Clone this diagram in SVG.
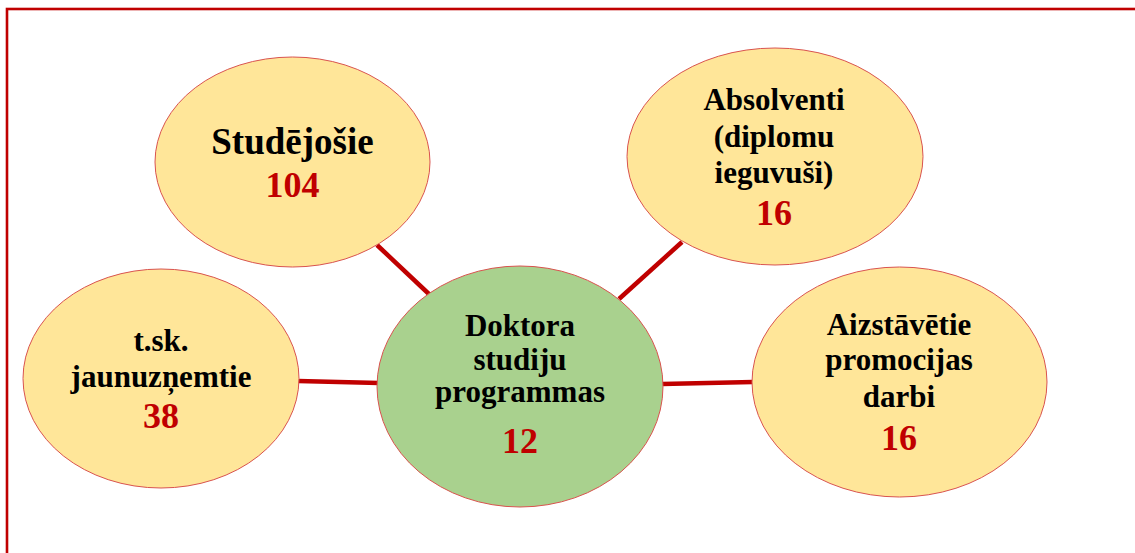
<svg xmlns="http://www.w3.org/2000/svg" width="1135" height="553" viewBox="0 0 1135 553">
<style>
.frame{fill:none;stroke:#c00000;stroke-width:2.6}
.conn{stroke:#c00000;stroke-width:4.5;fill:none}
.y{fill:#ffe699;stroke:#d9534f;stroke-width:1}
.g{fill:#a9d18e;stroke:#d9534f;stroke-width:1}
text{font-family:"Liberation Serif","Times New Roman",serif;font-weight:bold;text-anchor:middle}
.lbl{fill:#000;font-size:31px}
.big{fill:#000;font-size:37px}
.num{fill:#c00000;font-size:36px}
</style>
<rect class="frame" x="7" y="9" width="1140" height="560"/>
<g id="connectors">
<line class="conn" x1="377" y1="245" x2="430" y2="295"/>
<line class="conn" x1="682" y1="242" x2="619" y2="299"/>
<line class="conn" x1="298" y1="381" x2="379" y2="383"/>
<line class="conn" x1="662" y1="384" x2="753" y2="382"/>
</g>
<g id="studejosie">
<ellipse class="y" cx="292.5" cy="162" rx="137.5" ry="105"/>
<text class="big" x="292.5" y="154">Studējošie</text>
<text class="num" x="292.5" y="197">104</text>
</g>
<g id="absolventi">
<ellipse class="y" cx="775" cy="156.5" rx="148" ry="108.5"/>
<text class="lbl" x="774" y="110">Absolventi</text>
<text class="lbl" x="774" y="147">(diplomu</text>
<text class="lbl" x="774" y="183">ieguvuši)</text>
<text class="num" x="774" y="225">16</text>
</g>
<g id="jaunuznemtie">
<ellipse class="y" cx="161" cy="378.5" rx="138" ry="109.5"/>
<text class="lbl" x="161" y="351">t.sk.</text>
<text class="lbl" x="161" y="387">jaunuzņemtie</text>
<text class="num" x="161" y="428">38</text>
</g>
<g id="doktora">
<ellipse class="g" cx="520" cy="386.5" rx="143" ry="120.5"/>
<text class="lbl" x="520" y="336">Doktora</text>
<text class="lbl" x="520" y="370">studiju</text>
<text class="lbl" x="520" y="402">programmas</text>
<text class="num" x="520" y="453">12</text>
</g>
<g id="aizstavetie">
<ellipse class="y" cx="899.5" cy="382" rx="147.5" ry="115"/>
<text class="lbl" x="899" y="335">Aizstāvētie</text>
<text class="lbl" x="899" y="370">promocijas</text>
<text class="lbl" x="899" y="407">darbi</text>
<text class="num" x="899" y="450">16</text>
</g>
</svg>
